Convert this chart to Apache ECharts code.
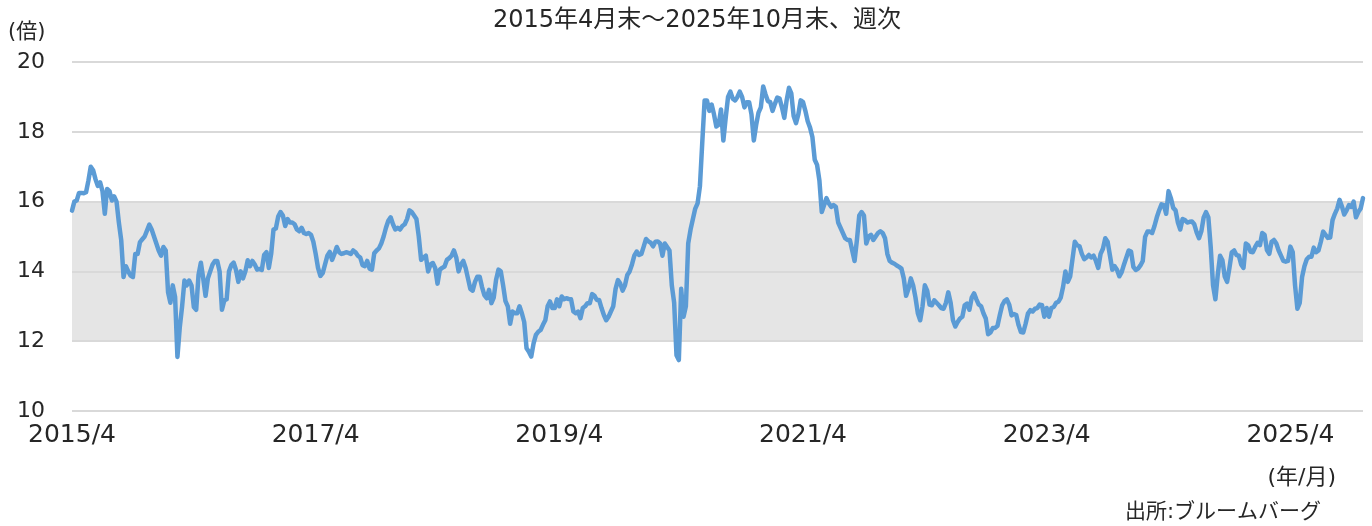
<!DOCTYPE html>
<html><head><meta charset="utf-8">
<script src="https://cdn.jsdelivr.net/npm/echarts@6/dist/echarts.min.js"></script>
<style>html,body{margin:0;padding:0;background:#fff}#c{width:1372px;height:526px}</style>
</head><body><div id="c"></div>
<script>
// Weekly P/E (倍), starting at end of April 2015, in two-year segments
const pe2015 = [
15.74,16.0,16.03,16.25,16.25,16.24,16.27,16.6,17.0,16.9,
16.65,16.45,16.55,16.3,15.65,16.36,16.3,16.03,16.15,16.0,
15.4,14.9,13.84,14.15,14.0,13.88,13.84,14.5,14.5,14.84,
14.92,15.0,15.17,15.34,15.2,15.0,14.8,14.6,14.45,14.7,
14.6,13.4,13.1,13.6,13.27,11.55,12.4,13.0,13.74,13.6,
13.74,13.6,12.98,12.9,13.9,14.25,13.8,13.3,13.8,14.0,
14.2,14.3,14.3,14.0,12.9,13.17,13.2,14.0,14.18,14.25,
14.04,13.7,14.0,13.8,14.0,14.32,14.15,14.3,14.2,14.05,
14.07,14.04,14.47,14.55,14.1,14.5,15.2,15.23,15.57,15.7,
15.6,15.3,15.5,15.4,15.4,15.35,15.2,15.15,15.25,15.1,
15.07,15.1,15.05,14.85];
const pe2017 = [
14.5,14.1,13.87,13.95,14.2,14.45,14.56,14.33,14.5,14.7,
14.55,14.5,14.52,14.55,14.53,14.5,14.6,14.55,14.45,14.4,
14.18,14.15,14.3,14.08,14.05,14.52,14.6,14.66,14.8,15.0,
15.25,15.45,15.55,15.35,15.2,15.25,15.2,15.3,15.35,15.5,
15.75,15.7,15.6,15.5,15.0,14.33,14.4,14.45,14.0,14.2,
14.24,14.1,13.65,14.05,14.1,14.14,14.33,14.38,14.45,14.6,
14.4,14.0,14.2,14.3,14.1,13.8,13.5,13.45,13.7,13.85,
13.85,13.55,13.32,13.23,13.47,13.09,13.25,13.76,14.05,14.0,
13.6,13.15,13.0,12.5,12.85,12.8,12.8,13.0,12.8,12.55,
11.8,11.7,11.56,11.94,12.18,12.27,12.32,12.47,12.6,13.0,
13.14,12.95,12.95,13.2];
const pe2019 = [
13.0,13.28,13.2,13.23,13.21,13.2,12.85,12.8,12.85,12.66,
12.95,13.0,13.09,13.09,13.35,13.3,13.18,13.18,12.95,12.75,
12.6,12.7,12.85,13.0,13.5,13.75,13.65,13.45,13.6,13.9,
14.0,14.2,14.45,14.57,14.47,14.5,14.71,14.93,14.86,14.82,
14.72,14.85,14.86,14.8,14.45,14.8,14.7,14.6,13.6,13.1,
11.6,11.46,13.5,12.7,13.0,14.8,15.2,15.5,15.8,15.95,
16.44,17.7,18.9,18.9,18.6,18.78,18.5,18.15,18.2,18.64,
17.75,18.4,19.0,19.15,18.95,18.9,19.0,19.15,19.0,18.7,
18.85,18.85,18.5,17.75,18.2,18.55,18.7,19.3,19.07,18.88,
18.85,18.6,18.8,18.98,18.95,18.7,18.4,18.9,19.26,19.1,
18.45,18.25,18.5,18.9];
const pe2021 = [
18.85,18.6,18.3,18.12,17.85,17.2,17.05,16.6,15.7,15.9,
16.1,15.95,15.85,15.9,15.85,15.4,15.25,15.1,14.95,14.9,
14.9,14.6,14.3,14.9,15.6,15.7,15.6,14.8,15.0,15.05,
14.9,15.0,15.1,15.15,15.1,14.95,14.5,14.3,14.25,14.22,
14.17,14.13,14.08,13.8,13.3,13.5,13.8,13.6,13.25,12.8,
12.6,13.0,13.6,13.45,13.05,13.03,13.17,13.1,13.03,12.95,
12.93,13.1,13.4,13.1,12.6,12.42,12.55,12.65,12.7,13.03,
13.08,12.9,13.25,13.37,13.2,13.05,13.0,12.8,12.65,12.2,
12.25,12.38,12.38,12.44,12.75,13.03,13.15,13.2,13.05,12.74,
12.78,12.75,12.46,12.26,12.25,12.5,12.79,12.89,12.85,12.93,
12.95,13.05,13.03,12.7];
const pe2023 = [
12.95,12.7,12.95,12.98,13.1,13.13,13.25,13.56,14.0,13.7,
13.85,14.35,14.85,14.75,14.72,14.5,14.35,14.4,14.47,14.4,
14.45,14.3,14.1,14.5,14.65,14.95,14.85,14.45,14.05,14.15,
14.05,13.86,13.98,14.2,14.4,14.6,14.57,14.13,14.04,14.08,
14.17,14.3,14.99,15.14,15.14,15.1,15.3,15.55,15.75,15.92,
15.9,15.65,16.3,16.1,15.82,15.75,15.4,15.2,15.5,15.47,
15.4,15.42,15.43,15.35,15.12,14.95,15.15,15.55,15.7,15.55,
14.7,13.6,13.2,13.9,14.45,14.32,13.85,13.7,14.1,14.55,
14.6,14.47,14.45,14.2,14.1,14.8,14.75,14.56,14.55,14.7,
14.82,14.75,15.1,15.05,14.61,14.5,14.85,14.9,14.8,14.6,
14.45,14.3,14.28,14.3];
const pe2025 = [
14.71,14.55,13.6,12.93,13.1,13.84,14.15,14.35,14.42,14.42,
14.68,14.55,14.6,14.85,15.14,15.05,14.96,14.97,15.47,15.65,
15.8,16.05,15.86,15.63,15.75,15.9,15.85,16.0,15.55,15.7,
15.8,16.1];

const tickLabels = ['2015/4','2017/4','2019/4','2021/4','2023/4','2025/4'];
const yTicks = [10, 12, 14, 16, 18, 20];
const bandRange = [12, 16];

const values = [].concat(pe2015, pe2017, pe2019, pe2021, pe2023, pe2025);
const startMs = Date.UTC(2015, 3, 30);
const dates = values.map(function (_, i) {
  const d = new Date(startMs + i * 7 * 86400000);
  return d.getUTCFullYear() + '/' + (d.getUTCMonth() + 1);
});

const FONT = "'DejaVu Sans', 'Noto Sans CJK JP', sans-serif";
const TXT = '#262626';

const chart = echarts.init(document.getElementById('c'), null, {renderer: 'canvas'});
chart.setOption({
  animation: false,
  grid: {left: 72, right: 9, top: 62, bottom: 115},
  xAxis: {
    type: 'category', data: dates, boundaryGap: false, z: 1.5,
    axisLine: {show: false}, axisTick: {show: false}, splitLine: {show: false},
    axisLabel: {
      interval: function (index, value) { return index % 104 === 0 && tickLabels.indexOf(value) >= 0; },
      showMinLabel: true,
      margin: 12, fontSize: 25, color: TXT, fontFamily: FONT
    }
  },
  yAxis: {
    type: 'value', min: yTicks[0], max: yTicks[yTicks.length - 1], interval: 2, z: 1.5,
    axisLine: {show: false}, axisTick: {show: false},
    axisLabel: {margin: 27, fontSize: 22, color: TXT, fontFamily: FONT},
    splitLine: {lineStyle: {color: '#d9d9d9', width: 2}}
  },
  series: [{
    type: 'line', data: values, symbol: 'none', z: 3,
    lineStyle: {color: '#5b9bd5', width: 4.5, cap: 'round', join: 'round'},
    markArea: {
      silent: true, z: 1,
      itemStyle: {color: '#e5e5e5'},
      data: [[{yAxis: bandRange[0]}, {yAxis: bandRange[1]}]]
    }
  }],
  graphic: [
    {type: 'text', x: 697, y: 9, style: {text: '2015年4月末～2025年10月末、週次', align: 'center', verticalAlign: 'top', textAlign: 'center', textVerticalAlign: 'top', fontSize: 24, fontFamily: FONT, fill: TXT}},
    {type: 'text', x: 8, y: 22, style: {text: '(倍)', align: 'left', verticalAlign: 'top', fontSize: 21, fontFamily: FONT, fill: TXT}},
    {type: 'text', x: 1336, y: 467, style: {text: '(年/月)', align: 'right', verticalAlign: 'top', textAlign: 'right', fontSize: 22, fontFamily: FONT, fill: TXT}},
    {type: 'text', x: 1125, y: 502, style: {text: '出所:ブルームバーグ', align: 'left', verticalAlign: 'top', fontSize: 21, fontFamily: FONT, fill: TXT}}
  ]
});
</script>
</body></html>
